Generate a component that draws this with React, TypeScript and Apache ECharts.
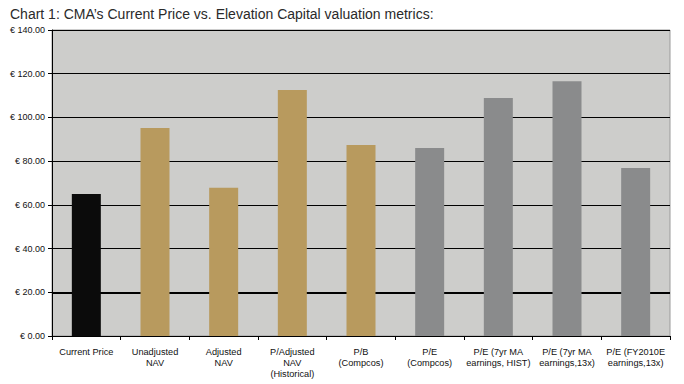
import React, { useEffect, useRef } from "react";
import * as echarts from "echarts";

const categories = [
  "Current Price",
  "Unadjusted\nNAV",
  "Adjusted\nNAV",
  "P/Adjusted\nNAV\n(Historical)",
  "P/B\n(Compcos)",
  "P/E\n(Compcos)",
  "P/E (7yr MA\nearnings, HIST)",
  "P/E (7yr MA\nearnings,13x)",
  "P/E (FY2010E\nearnings,13x)",
];
const values = [65.0, 95.2, 67.8, 112.5, 87.4, 86.0, 108.9, 116.6, 76.9];
const barColors = [
  "#0b0b0b",
  "#b89a5e",
  "#b89a5e",
  "#b89a5e",
  "#b89a5e",
  "#8a8b8c",
  "#8a8b8c",
  "#8a8b8c",
  "#8a8b8c",
];
const title = "Chart 1: CMA\u2019s Current Price vs. Elevation Capital valuation metrics:";

export default function App() {
  const ref = useRef<HTMLDivElement>(null);
  useEffect(() => {
    if (!ref.current) return;
    const chart = echarts.init(ref.current, undefined, { renderer: "svg" });
    chart.setOption({
      animation: false,
      backgroundColor: "#ffffff",
      title: {
        text: title,
        left: 5,
        top: 2,
        textStyle: {
          fontFamily: "Liberation Sans, Arial, sans-serif",
          fontSize: 14,
          fontWeight: "normal",
          color: "#2a2a2a",
        },
      },
      grid: {
        left: 52,
        right: 14,
        top: 30,
        bottom: 48,
        show: true,
        backgroundColor: "#cdcdcb",
        borderColor: "#9a9a9a",
        borderWidth: 1,
      },
      xAxis: {
        type: "category",
        data: categories,
        axisLine: { show: true, lineStyle: { color: "#000", width: 1 } },
        axisTick: { show: true, length: 4, lineStyle: { color: "#000" } },
        axisLabel: {
          interval: 0,
          margin: 11,
          fontFamily: "Liberation Sans, Arial, sans-serif",
          fontSize: 9.2,
          lineHeight: 10.8,
          color: "#111",
        },
      },
      yAxis: {
        type: "value",
        min: 0,
        max: 140,
        interval: 20,
        axisLine: { show: true, lineStyle: { color: "#000", width: 1 } },
        axisTick: { show: true, length: 4, lineStyle: { color: "#000" } },
        axisLabel: {
          margin: 7,
          fontFamily: "Liberation Sans, Arial, sans-serif",
          fontSize: 9,
          color: "#111",
          formatter: (v: number) => "€ " + v.toFixed(2),
        },
        splitLine: {
          show: true,
          lineStyle: { color: "#000", width: 1 },
        },
      },
      series: [
        {
          type: "bar",
          barWidth: 29,
          data: values.map((v, i) => ({ value: v, itemStyle: { color: barColors[i] } })),
          markLine: {
            silent: true,
            symbol: "none",
            label: { show: false },
            lineStyle: { color: "#000", width: 2, type: "solid" },
            data: [{ yAxis: 20 }],
            z: 1,
          },
          z: 3,
        },
      ],
    });
    return () => chart.dispose();
  }, []);
  return (
    <div
      ref={ref}
      style={{ position: "fixed", left: 0, top: 0, width: 684, height: 384 }}
    />
  );
}
